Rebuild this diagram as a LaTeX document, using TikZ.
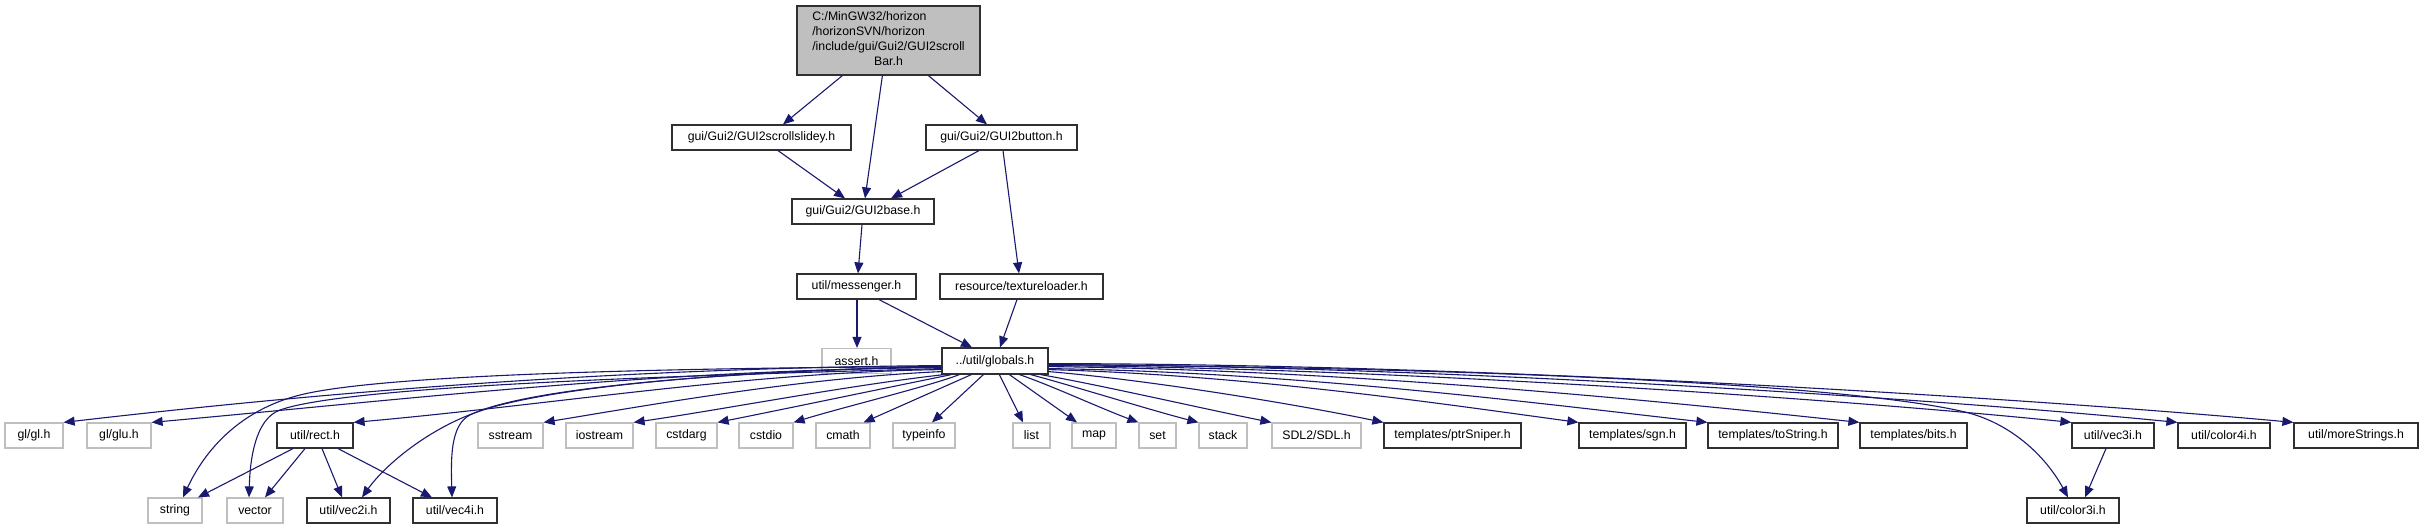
\documentclass[tikz,border=0pt]{standalone}
\usepackage{fontspec}
\setmainfont{Liberation Sans}
\usetikzlibrary{arrows.meta}
\definecolor{edgecol}{HTML}{191970}
\definecolor{grayline}{HTML}{BFBFBF}
\definecolor{darkline}{HTML}{303030}
\begin{document}
\begin{tikzpicture}[x=1pt,y=-1pt,
  base/.style={draw, line width=1.2pt, minimum height=25pt, inner sep=0pt, font=\fontsize{12.3}{15}\selectfont, anchor=center},
  blk/.style={base, draw=darkline},
  gry/.style={base, draw=grayline},
  edge/.style={draw=edgecol, line width=1.1pt, -{Triangle[length=11pt,width=9pt]}}]
\useasboundingbox[fill=white] (0,0) rectangle (2425,529);
% nodes
\node[blk, fill=grayline, minimum width=183pt, minimum height=69pt] (main) at (888.5,40.5)
  {\begin{tabular}{@{}l@{}}C:/MinGW32/horizon\\/horizonSVN/horizon\\/include/gui/Gui2/GUI2scroll\\\multicolumn{1}{@{}c@{}}{Bar.h}\end{tabular}};
\node[blk, minimum width=179pt] (slidey) at (761.5,137.5) {gui/Gui2/GUI2scrollslidey.h};
\node[blk, minimum width=151pt] (button) at (1001.5,137.5) {gui/Gui2/GUI2button.h};
\node[blk, minimum width=142pt] (gbase) at (863,211.5) {gui/Gui2/GUI2base.h};
\node[blk, minimum width=119pt] (messenger) at (856.5,286.5) {util/messenger.h};
\node[blk, minimum width=163pt] (texture) at (1021.5,286.5) {resource/textureloader.h};
\node[gry, minimum width=69pt] (assert) at (856.5,361) {assert.h};
\node[blk, minimum width=106pt, minimum height=26pt] (globals) at (995,361) {../util/globals.h};
% row 6
\node[gry, minimum width=58pt] (gl) at (34,435.5) {gl/gl.h};
\node[gry, minimum width=64pt] (glu) at (119,435.5) {gl/glu.h};
\node[blk, minimum width=76pt] (rect) at (315,435.5) {util/rect.h};
\node[gry, minimum width=65pt] (sstream) at (510.5,435.5) {sstream};
\node[gry, minimum width=67pt] (iostream) at (599.5,435.5) {iostream};
\node[gry, minimum width=61pt] (cstdarg) at (686.5,435.5) {cstdarg};
\node[gry, minimum width=54pt] (cstdio) at (766,435.5) {cstdio};
\node[gry, minimum width=54pt] (cmath) at (843,435.5) {cmath};
\node[gry, minimum width=62pt] (typeinfo) at (924,435.5) {typeinfo};
\node[gry, minimum width=37pt] (list) at (1031.5,435.5) {list};
\node[gry, minimum width=44pt] (map) at (1094,435.5) {map};
\node[gry, minimum width=37pt] (set) at (1157.5,435.5) {set};
\node[gry, minimum width=48pt] (stack) at (1223,435.5) {stack};
\node[gry, minimum width=89pt] (sdl) at (1316.5,435.5) {SDL2/SDL.h};
\node[blk, minimum width=137pt] (ptr) at (1452.5,435.5) {templates/ptrSniper.h};
\node[blk, minimum width=107pt] (sgn) at (1632.5,435.5) {templates/sgn.h};
\node[blk, minimum width=130pt] (tostr) at (1773,435.5) {templates/toString.h};
\node[blk, minimum width=107pt] (bits) at (1913.5,435.5) {templates/bits.h};
\node[blk, minimum width=82pt] (vec3i) at (2113,435.5) {util/vec3i.h};
\node[blk, minimum width=92pt] (color4i) at (2224,435.5) {util/color4i.h};
\node[blk, minimum width=124pt] (more) at (2356,435.5) {util/moreStrings.h};
% row 7
\node[gry, minimum width=54pt] (string) at (175,510.5) {string};
\node[gry, minimum width=56pt] (vector) at (255,510.5) {vector};
\node[blk, minimum width=83pt] (vec2i) at (348.5,510.5) {util/vec2i.h};
\node[blk, minimum width=84pt] (vec4i) at (455,510.5) {util/vec4i.h};
\node[blk, minimum width=92pt] (color3i) at (2073,510.5) {util/color3i.h};
% upper edges
\draw[edge] ([xshift=46pt]main.south west) -- ([xshift=21.5pt]slidey.north);
\draw[edge] ([xshift=86pt]main.south west) -- ([xshift=2pt]gbase.north);
\draw[edge] ([xshift=132pt]main.south west) -- ([xshift=-14.5pt]button.north);
\draw[edge] ([xshift=16.5pt]slidey.south) -- ([xshift=-18pt]gbase.north);
\draw[edge] ([xshift=-22.5pt]button.south) -- ([xshift=28pt]gbase.north);
\draw[edge] ([xshift=1.5pt]button.south) -- ([xshift=-2.5pt]texture.north);
\draw[edge] ([xshift=-1pt]gbase.south) -- ([xshift=1.5pt]messenger.north);
\draw[edge] ([xshift=0.5pt]messenger.south) -- ([xshift=0.5pt]assert.north);
\draw[edge] ([xshift=22.5pt]messenger.south) -- ([xshift=-23pt]globals.north);
\draw[edge] ([xshift=-4.5pt]texture.south) -- ([xshift=5pt]globals.north);
% rect edges
\draw[edge] ([xshift=-22pt]rect.south) -- ([xshift=23pt]string.north);
\draw[edge] ([xshift=-10pt]rect.south) -- ([xshift=10pt]vector.north);
\draw[edge] ([xshift=7pt]rect.south) -- ([xshift=-6.5pt]vec2i.north);
\draw[edge] ([xshift=23pt]rect.south) -- ([xshift=-23pt]vec4i.north);
\draw[edge] ([xshift=-7pt]vec3i.south) -- ([xshift=12pt]color3i.north);
% globals edges, left
\draw[edge] ([yshift=9pt]globals.south west) .. controls (600,368) and (300,395) .. (gl.north east);
\draw[edge] ([yshift=7pt]globals.south west) .. controls (650,370) and (400,400) .. (glu.north east);
\draw[edge] ([yshift=5pt]globals.south west) .. controls (750,372) and (550,405) .. (rect.north east);
\draw[edge] ([yshift=3pt]globals.south west) .. controls (800,378) and (650,405) .. (sstream.north east);
\draw[edge] ([xshift=3pt]globals.south west) .. controls (850,385) and (720,410) .. (iostream.north east);
\draw[edge] ([xshift=10pt]globals.south west) .. controls (900,385) and (780,410) .. (cstdarg.north east);
\draw[edge] ([xshift=18pt]globals.south west) .. controls (930,386) and (840,408) .. (cstdio.north east);
\draw[edge] ([xshift=30pt]globals.south west) -- ([xshift=-7pt]cmath.north east);
\draw[edge] ([xshift=42pt]globals.south west) -- ([xshift=8pt]typeinfo.north);
\draw[edge] ([yshift=8pt]globals.south west) .. controls (650,368) and (380,375) .. (300,395)
   .. controls (240,410) and (205,450) .. ([xshift=8pt]string.north);
\draw[edge] ([yshift=6pt]globals.south west) .. controls (700,375) and (350,385) .. (280,410)
   .. controls (255,419) and (250,460) .. ([xshift=-6pt]vector.north);
\draw[edge] ([yshift=8pt]globals.south west) .. controls (750,370) and (560,385) .. (483,410)
   .. controls (430,427) and (385,465) .. ([xshift=13.5pt]vec2i.north);
\draw[edge] ([yshift=8pt]globals.south west) .. controls (700,372) and (520,390) .. (470,415)
   .. controls (450,425) and (451,460) .. ([xshift=-3pt]vec4i.north);
% globals edges, right
\draw[edge] ([xshift=58pt]globals.south west) -- ([xshift=-8.5pt]list.north);
\draw[edge] ([xshift=68pt]globals.south west) -- ([xshift=-17pt]map.north);
\draw[edge] ([xshift=78pt]globals.south west) .. controls (1050,385) and (1100,408) .. (set.north west);
\draw[edge] ([xshift=-18pt]globals.south east) .. controls (1070,385) and (1150,410) .. (stack.north west);
\draw[edge] ([xshift=-8pt]globals.south east) .. controls (1100,385) and (1200,408) .. (sdl.north west);
\draw[edge] ([yshift=3pt]globals.south east) .. controls (1150,380) and (1300,405) .. (ptr.north west);
\draw[edge] ([yshift=5pt]globals.south east) .. controls (1250,375) and (1450,405) .. (sgn.north west);
\draw[edge] ([yshift=6pt]globals.south east) .. controls (1300,372) and (1550,405) .. (tostr.north west);
\draw[edge] ([yshift=8pt]globals.south east) .. controls (1350,370) and (1650,400) .. (bits.north west);
\draw[edge] ([yshift=9pt]globals.south east) .. controls (1400,368) and (1850,400) .. (vec3i.north west);
\draw[edge] ([yshift=10pt]globals.south east) .. controls (1450,366) and (1950,400) .. (color4i.north west);
\draw[edge] ([yshift=11pt]globals.south east) .. controls (1500,364) and (2050,400) .. (more.north west);
\draw[edge] ([yshift=10pt]globals.south east) .. controls (1500,368) and (1850,385) .. (1965,412)
   .. controls (2010,423) and (2045,455) .. ([xshift=-5pt]color3i.north);
\end{tikzpicture}
\end{document}
